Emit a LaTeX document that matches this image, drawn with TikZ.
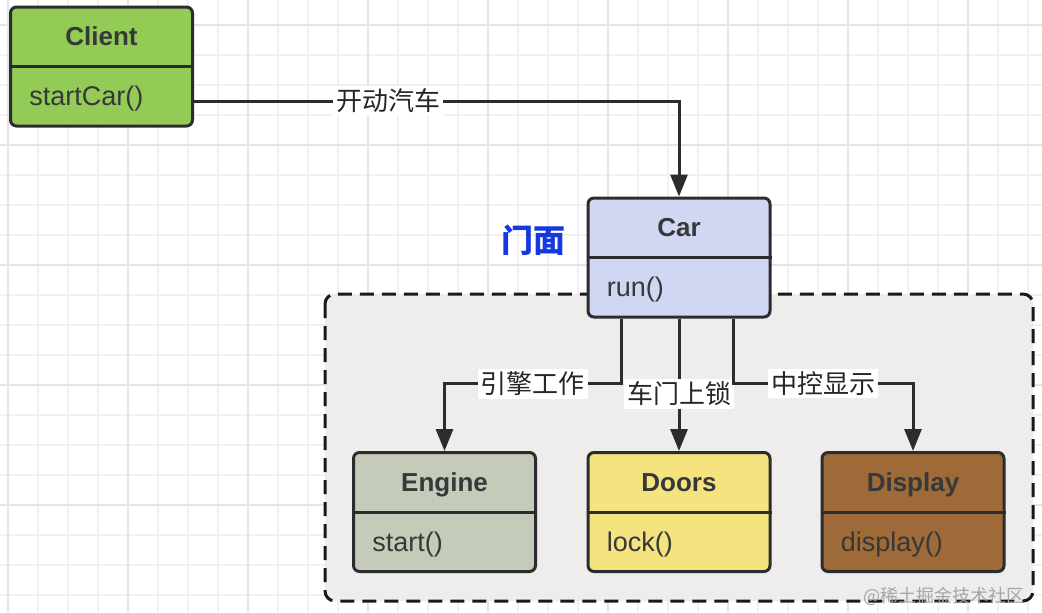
\documentclass[tikz,border=0pt]{standalone}
\usepackage{fontspec}
\setmainfont{Liberation Sans}
\newfontfamily\cjk{Noto Sans CJK SC}
\usepackage{tikz}
\usetikzlibrary{arrows.meta}
\usetikzlibrary{calc,positioning}

\definecolor{gridminor}{HTML}{F1F1F3}
\definecolor{gridmajor}{HTML}{E5E5E8}
\definecolor{linedark}{HTML}{2A2C2E}
\definecolor{textdark}{HTML}{36383A}
\definecolor{clientgreen}{HTML}{93CB56}
\definecolor{carblue}{HTML}{D1D6F3}
\definecolor{enginegrey}{HTML}{C4CCB9}
\definecolor{doorsyellow}{HTML}{F5E380}
\definecolor{displaybrown}{HTML}{9E6A37}
\definecolor{framegrey}{HTML}{EEEDEB}
\definecolor{facadeblue}{HTML}{1538E0}

\begin{document}
\begin{tikzpicture}[x=0.5pt,y=-0.5pt,
		classbox/.style={draw=linedark,line width=1.5pt,rounded corners=3pt,
			minimum width=91pt,minimum height=59.5pt,inner sep=0pt},
		divline/.style={draw=linedark,line width=1.5pt},
		titletext/.style={text=textdark,font=\fontsize{13}{15}\selectfont\bfseries,inner sep=0pt,anchor=base},
		methodtext/.style={text=textdark,font=\fontsize{13.5}{15}\selectfont,inner sep=0pt,anchor=base west},
		msglabel/.style={fill=white,text=black!85,font=\cjk\fontsize{13}{15}\selectfont,inner sep=1.5pt}]

		\useasboundingbox (0,0) rectangle (1042,612);

		% grid background
		\foreach \gx in {8,38,...,1040} \draw[gridminor,line width=0.7pt] (\gx,0) -- (\gx,612);
		\foreach \gy in {25,55,...,610} \draw[gridminor,line width=0.7pt] (0,\gy) -- (1042,\gy);
		\foreach \gx in {8,128,...,1040} \draw[gridmajor,line width=0.9pt] (\gx,0) -- (\gx,612);
		\foreach \gy in {25,145,...,610} \draw[gridmajor,line width=0.9pt] (0,\gy) -- (1042,\gy);

		% subsystem frame
		\draw[fill=framegrey,draw=black!90,line width=1.5pt,rounded corners=5pt,
			dash pattern=on 7pt off 4pt] (325,294) rectangle (1033,601);

		% classes
		\node[classbox,fill=clientgreen] (client) at (101.5,66.5) {};
		\draw[divline] (client.west) -- (client.east);
		\node[titletext] (clientname) at ([yshift=10.3pt]client.center) {Client};
		\node[methodtext] (clientop) at ([xshift=10pt,yshift=-19.5pt]client.west) {startCar()};

		\node[classbox,fill=carblue] (car) at (679,257.5) {};
		\draw[divline] (car.west) -- (car.east);
		\node[titletext] (carname) at ([yshift=10.3pt]car.center) {Car};
		\node[methodtext] (carop) at ([xshift=10pt,yshift=-19.5pt]car.west) {run()};

		\node[classbox,fill=enginegrey] (engine) at (444.5,512) {};
		\draw[divline] (engine.west) -- (engine.east);
		\node[titletext] (enginename) at ([yshift=10.3pt]engine.center) {Engine};
		\node[methodtext] (engineop) at ([xshift=10pt,yshift=-19.5pt]engine.west) {start()};

		\node[classbox,fill=doorsyellow] (doors) at (679,512) {};
		\draw[divline] (doors.west) -- (doors.east);
		\node[titletext] (doorsname) at ([yshift=10.3pt]doors.center) {Doors};
		\node[methodtext] (doorsop) at ([xshift=10pt,yshift=-19.5pt]doors.west) {lock()};

		\node[classbox,fill=displaybrown] (display) at (913,512) {};
		\draw[divline] (display.west) -- (display.east);
		\node[titletext] (displayname) at ([yshift=10.3pt]display.center) {Display};
		\node[methodtext] (displayop) at ([xshift=10pt,yshift=-19.5pt]display.west) {display()};

		\node[text=facadeblue,font=\cjk\fontsize{16}{18}\selectfont\bfseries] (facade) at (533,240) {门面};

		% calls
		\begin{scope}[>={Triangle[length=11pt,width=8.5pt]},draw=linedark,line width=1.5pt]
			\draw[->] ([yshift=-17.25pt]client.east) -| (car.north)
				node[msglabel,pos=0.2] {开动汽车};
			\draw[->] ([xshift=-29pt]car.south) -- ++(0,65) -| (engine.north)
				node[msglabel,pos=0.25] {引擎工作};
			\draw[->] (car.south) -- (doors.north)
				node[msglabel,pos=0.57] {车门上锁};
			\draw[->] ([xshift=27pt]car.south) -- ++(0,65) -| (display.north)
				node[msglabel,pos=0.25] {中控显示};
		\end{scope}

		\node[text=black!35,font=\cjk\fontsize{9}{10}\selectfont,anchor=east] (mark) at (1032,596) {@稀土掘金技术社区};
	\end{tikzpicture}
\end{document}
